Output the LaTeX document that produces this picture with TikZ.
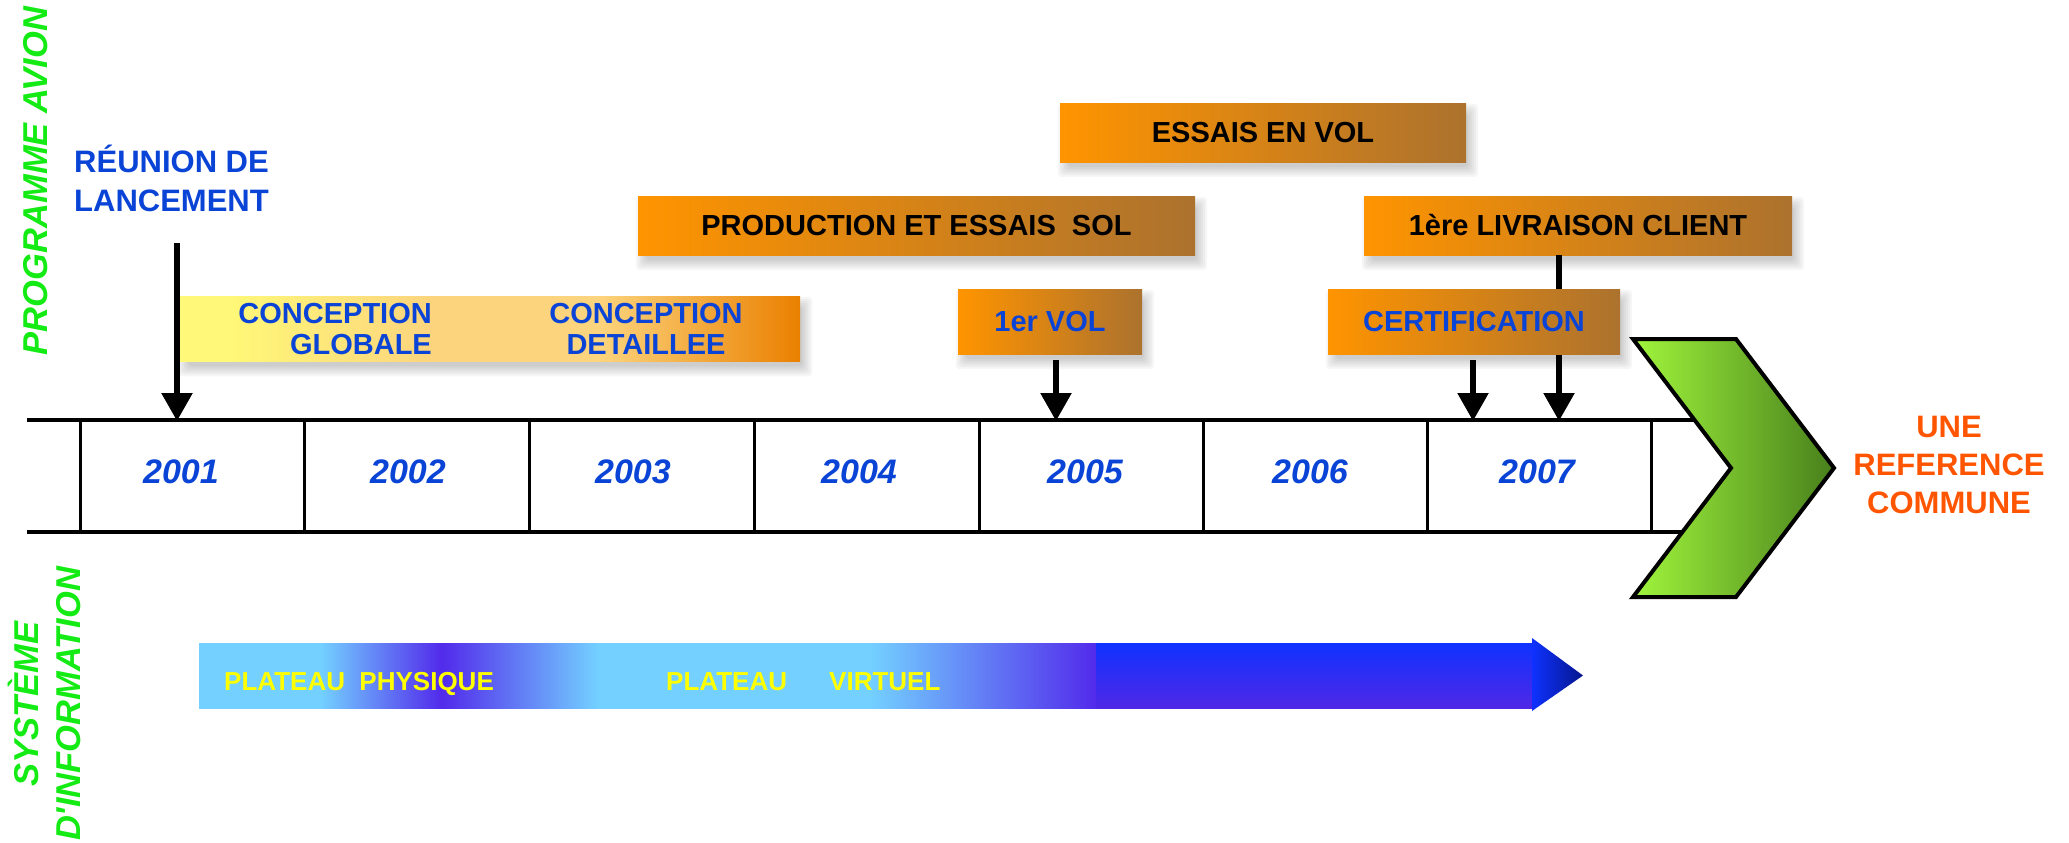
\documentclass[tikz,border=0pt]{standalone}
\usepackage{fontspec}
\setmainfont{Liberation Sans}
\usetikzlibrary{arrows.meta,calc}
\definecolor{tblue}{RGB}{10,68,214}
\definecolor{tgreen}{RGB}{20,235,20}
\definecolor{tred}{RGB}{255,85,0}
\definecolor{tyel}{RGB}{255,255,0}
\definecolor{oL}{RGB}{255,148,0}
\definecolor{oR}{RGB}{172,114,46}
\definecolor{cy}{RGB}{255,248,120}
\definecolor{clo}{RGB}{252,212,125}
\definecolor{cor}{RGB}{234,128,0}
\definecolor{lb}{RGB}{115,208,255}
\definecolor{pu}{RGB}{82,42,235}
\definecolor{bT}{RGB}{15,50,255}
\definecolor{bB}{RGB}{80,40,230}
\definecolor{bN}{RGB}{5,22,140}
\definecolor{gL}{RGB}{160,245,60}
\definecolor{gR}{RGB}{72,128,28}
\pgfdeclarehorizontalshading{cgshade}{100bp}{color(0bp)=(cy); color(33bp)=(cy); color(65bp)=(clo); color(100bp)=(clo)}
\pgfdeclarehorizontalshading{cdshade}{100bp}{color(0bp)=(clo); color(42bp)=(clo); color(75bp)=(cor); color(100bp)=(cor)}
\pgfdeclarehorizontalshading{platshade}{100bp}{color(0bp)=(lb); color(31.8bp)=(lb); color(38.5bp)=(pu); color(47.2bp)=(lb); color(62.4bp)=(lb); color(75bp)=(pu); color(100bp)=(pu)}
\pgfdeclarelayer{bg}
\pgfsetlayers{bg,main}
\newcommand{\boxshadow}[2]{%
  \foreach \r in {-3,-1,1,3,5,7}{%
    \fill[black,opacity=0.035,rounded corners=4pt]
      ($(#1.north west)+(5-\r,8-\r)$) rectangle ($(#2.south east)+(5+\r,8+\r)$);}}
\begin{document}
\begin{tikzpicture}[x=1pt,y=-1pt,
  obox/.style={left color=oL,right color=oR,minimum height=59pt,inner sep=0pt,
    font=\bfseries\fontsize{29}{32}\selectfont},
  arr/.style={line width=5.5pt,-{Triangle[width=30pt,length=28pt]}},
  tl/.style={line width=3.5pt},
  dv/.style={line width=3pt},
  yr/.style={font=\bfseries\itshape\fontsize{34}{40}\selectfont,text=tblue,anchor=base,inner sep=0pt},
  ctext/.style={font=\bfseries\fontsize{29}{32}\selectfont,text=tblue,inner sep=0pt},
  rtext/.style={font=\bfseries\fontsize{31}{36}\selectfont,text=tblue,inner sep=0pt,anchor=base west},
  utext/.style={font=\bfseries\fontsize{31}{36}\selectfont,text=tred,inner sep=0pt,anchor=base},
  ptext/.style={font=\bfseries\fontsize{26}{30}\selectfont,text=tyel,inner sep=0pt,anchor=base west},
  vtext/.style={font=\bfseries\itshape\fontsize{34.5}{40}\selectfont,text=tgreen,inner sep=0pt,rotate=90,anchor=base}]
\useasboundingbox (0,0) rectangle (2069,843);

% side labels
\node[vtext] (prog) at (47,181) {PROGRAMME AVION};
\node[vtext] (sys1) at (38,704) {SYSTÈME};
\node[vtext] (sys2) at (80,704) {D\textquotesingle INFORMATION};

% conception bar
\node[shade,shading=cgshade,minimum width=314pt,minimum height=65pt,inner sep=0pt,anchor=north west] (cg) at (180,296) {};
\node[shade,shading=cdshade,minimum width=306pt,minimum height=65pt,inner sep=0pt,anchor=north west] (cd) at (494,296) {};
\node[ctext,anchor=base east] (cg1) at (432,323) {CONCEPTION};
\node[ctext,anchor=base east] (cg2) at (432,354) {GLOBALE};
\node[ctext,anchor=base] (cd1) at (646,323) {CONCEPTION};
\node[ctext,anchor=base] (cd2) at (646,354) {DETAILLEE};

% launch
\node[rtext] (reunion1) at (74,172) {RÉUNION DE};
\node[rtext] (reunion2) at (74,211) {LANCEMENT};
\coordinate (launchtop) at (177,243);
\coordinate (launchend) at (177,421);
\draw[arr] (launchtop) -- (launchend);

% orange boxes
\node[obox,minimum width=406pt] (essais) at (1263,132.5) {ESSAIS EN VOL};
\node[obox,minimum width=557pt] (production) at (916.5,225.5) {PRODUCTION ET ESSAIS\ \ SOL};
\node[obox,minimum width=428pt] (livraison) at (1578,225.5) {1ère LIVRAISON CLIENT};
\coordinate (livend) at (1559,421);
\draw[arr] (livraison.south -| livend) -- (livend);
\node[obox,minimum width=184pt,minimum height=65pt,text=tblue] (vol) at (1050,321.5) {1er VOL};
\node[obox,minimum width=292pt,minimum height=65pt,text=tblue] (certif) at (1474,321.5) {CERTIFICATION};
\coordinate (volend) at (1056,421);
\draw[arr] ($(vol.south -| volend)+(0,6)$) -- (volend);
\coordinate (certend) at (1473,421);
\draw[arr] ($(certif.south -| certend)+(0,6)$) -- (certend);

\begin{pgfonlayer}{bg}
\boxshadow{cg}{cd}
\boxshadow{essais}{essais}
\boxshadow{production}{production}
\boxshadow{livraison}{livraison}
\boxshadow{vol}{vol}
\boxshadow{certif}{certif}
\end{pgfonlayer}

% timeline
\draw[tl] (27,420) -- (1700,420);
\draw[tl] (27,532) -- (1690,532);
\foreach \x in {80,304,529,754,979,1203,1427,1651} \draw[dv] (\x,420) -- (\x,532);
\foreach \x/\yy in {181/2001,408/2002,633/2003,859/2004,1085/2005,1310/2006,1537/2007}
  \node[yr] (y\yy) at (\x,483) {\yy};

% chevron
\draw[line width=4pt,line join=miter,left color=gL,right color=gR]
  (1633,339) -- (1736,339) -- (1834,468) -- (1736,597) -- (1633,597) -- (1731,468) -- cycle;
\node[utext] (une) at (1949,437) {UNE};
\node[utext] (ref) at (1949,475) {REFERENCE};
\node[utext] (com) at (1949,513) {COMMUNE};

% plateau arrow
\shade[shading=platshade] (199,643) rectangle (1097,708);
\shade[top color=bT,bottom color=bB] (1096,643) rectangle (1533,708);
\shade[left color=bT,right color=bN] (1532,638) -- (1583,675.5) -- (1532,711) -- cycle;
\node[ptext] (pp) at (224,690) {PLATEAU\ \ PHYSIQUE};
\node[ptext] (pv1) at (666,690) {PLATEAU};
\node[ptext] (pv2) at (829,690) {VIRTUEL};
\end{tikzpicture}
\end{document}
